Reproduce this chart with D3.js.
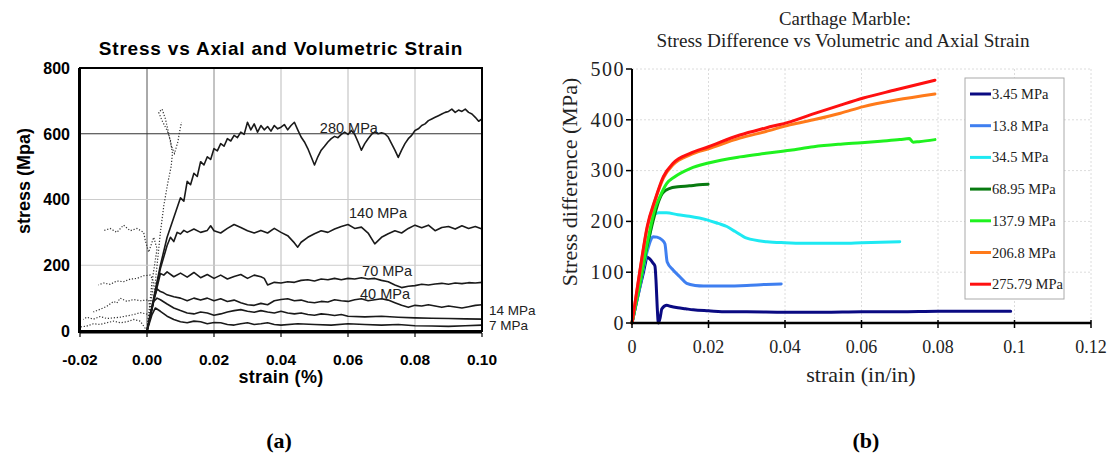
<!DOCTYPE html>
<html lang="en">
<head>
<meta charset="UTF-8">
<title>Stress vs Strain - Carthage Marble</title>
<script src="https://d3js.org/d3.v7.min.js"></script>
<style>
    body { margin: 0; background: #fff; }
    .sans { font-family: "Liberation Sans", Arial, sans-serif; }
    .serif { font-family: "Liberation Serif", "Times New Roman", serif; }
</style>
</head>
<body>
<div id="fig"></div>
<script>
// ---------- panel (a): axial (solid) and volumetric (dotted) curves ----------
var leftXTicks = [-0.02, 0, 0.02, 0.04, 0.06, 0.08, 0.10];
var leftYTicks = [0, 200, 400, 600, 800];

var axial280 = [[0,0],[0.002,100],[0.004,200],[0.006,285],[0.008,345],[0.010,405],[0.011,395],[0.012,455],[0.013,445],[0.014,480],[0.015,470],[0.016,515],[0.017,505],[0.018,530],[0.019,522],[0.020,555],[0.021,548],[0.022,570],[0.023,562],[0.024,585],[0.025,578],[0.026,595],[0.027,588],[0.028,605],[0.029,598],[0.030,635],[0.031,612],[0.032,630],[0.033,605],[0.034,625],[0.035,612],[0.036,622],[0.037,608],[0.038,625],[0.039,615],[0.040,620],[0.041,628],[0.042,612],[0.043,625],[0.044,635],[0.045,612],[0.046,590],[0.047,575],[0.048,555],[0.049,530],[0.050,505],[0.051,530],[0.052,550],[0.053,562],[0.054,575],[0.055,585],[0.056,592],[0.057,588],[0.058,598],[0.059,605],[0.060,598],[0.061,610],[0.062,598],[0.063,575],[0.064,550],[0.065,570],[0.066,585],[0.067,598],[0.068,605],[0.069,600],[0.070,603],[0.071,600],[0.072,590],[0.073,570],[0.074,550],[0.075,528],[0.076,550],[0.077,570],[0.078,585],[0.079,595],[0.080,610],[0.081,615],[0.082,625],[0.083,630],[0.084,640],[0.085,645],[0.086,650],[0.087,655],[0.088,660],[0.089,665],[0.090,668],[0.091,675],[0.092,665],[0.093,672],[0.094,668],[0.095,675],[0.096,665],[0.097,660],[0.098,650],[0.099,638],[0.100,645]];
var axial140 = [[0,0],[0.002,95],[0.004,190],[0.006,260],[0.007,285],[0.008,272],[0.009,300],[0.010,295],[0.011,306],[0.012,300],[0.014,310],[0.016,300],[0.018,306],[0.019,320],[0.020,305],[0.022,298],[0.024,312],[0.026,324],[0.028,315],[0.030,305],[0.032,298],[0.034,306],[0.036,298],[0.038,312],[0.040,300],[0.042,290],[0.044,268],[0.045,255],[0.046,270],[0.048,285],[0.050,296],[0.052,305],[0.054,300],[0.056,310],[0.058,318],[0.060,324],[0.062,312],[0.064,316],[0.066,298],[0.068,265],[0.070,285],[0.072,296],[0.074,305],[0.076,298],[0.078,312],[0.080,322],[0.082,314],[0.084,322],[0.086,305],[0.088,315],[0.090,318],[0.092,310],[0.094,320],[0.096,312],[0.098,318],[0.100,310]];
var axial70 = [[0,0],[0.002,90],[0.004,175],[0.005,170],[0.006,180],[0.008,165],[0.010,176],[0.012,164],[0.014,178],[0.016,162],[0.018,172],[0.020,160],[0.022,170],[0.024,158],[0.026,166],[0.028,172],[0.030,160],[0.032,170],[0.034,165],[0.035,160],[0.036,140],[0.038,148],[0.040,146],[0.042,150],[0.044,148],[0.046,154],[0.048,156],[0.050,152],[0.052,158],[0.054,156],[0.056,160],[0.058,156],[0.060,160],[0.062,158],[0.064,162],[0.066,158],[0.068,160],[0.070,154],[0.072,150],[0.074,140],[0.076,132],[0.078,136],[0.080,138],[0.082,142],[0.084,140],[0.086,143],[0.088,145],[0.090,142],[0.092,146],[0.094,144],[0.096,147],[0.098,146],[0.100,148]];
var axial40 = [[0,0],[0.002,95],[0.003,128],[0.004,120],[0.005,116],[0.006,110],[0.008,104],[0.010,100],[0.012,92],[0.014,100],[0.016,94],[0.018,100],[0.020,92],[0.022,98],[0.024,90],[0.026,94],[0.028,86],[0.030,80],[0.032,78],[0.034,84],[0.036,80],[0.038,92],[0.040,96],[0.042,98],[0.044,92],[0.046,94],[0.048,88],[0.050,86],[0.052,90],[0.054,88],[0.056,95],[0.058,92],[0.060,90],[0.062,95],[0.064,98],[0.066,92],[0.068,95],[0.070,98],[0.072,94],[0.074,86],[0.076,78],[0.078,72],[0.080,78],[0.082,76],[0.084,80],[0.086,76],[0.088,72],[0.090,76],[0.092,73],[0.094,70],[0.096,74],[0.098,78],[0.100,80]];
var axial14 = [[0,0],[0.002,90],[0.003,100],[0.004,95],[0.006,82],[0.008,70],[0.010,62],[0.012,55],[0.014,52],[0.016,58],[0.018,55],[0.020,48],[0.022,52],[0.024,58],[0.026,62],[0.028,65],[0.030,60],[0.032,57],[0.034,62],[0.036,58],[0.038,55],[0.040,60],[0.042,55],[0.044,52],[0.046,55],[0.048,50],[0.050,48],[0.052,52],[0.054,50],[0.056,47],[0.058,50],[0.060,45],[0.065,43],[0.070,45],[0.075,42],[0.080,40],[0.085,39],[0.090,38],[0.095,37],[0.100,36]];
var axial7 = [[0,0],[0.0015,50],[0.0025,70],[0.004,60],[0.006,45],[0.008,35],[0.010,28],[0.012,25],[0.014,30],[0.016,28],[0.018,22],[0.020,26],[0.022,25],[0.024,20],[0.026,18],[0.028,22],[0.030,25],[0.032,20],[0.034,22],[0.036,25],[0.038,20],[0.040,18],[0.045,22],[0.050,20],[0.055,18],[0.060,22],[0.065,20],[0.070,18],[0.075,20],[0.080,16],[0.085,15],[0.090,14],[0.095,16],[0.100,18]];

var vol280 = [[0,0],[0.002,100],[0.003,200],[0.004,300],[0.005,380],[0.0062,450],[0.0072,500],[0.0076,540],[0.007,580],[0.006,610],[0.0045,640],[0.0035,665],[0.0045,675],[0.0055,645],[0.0065,600],[0.0072,565],[0.0082,540],[0.0092,575],[0.0098,610],[0.0103,635]];
var vol140 = [[0,0],[0.0015,150],[0.003,250],[0.002,285],[0.0005,240],[-0.0005,275],[-0.001,300],[-0.003,312],[-0.005,305],[-0.007,322],[-0.009,300],[-0.011,312],[-0.013,305]];
var vol70 = [[0,0],[0.0015,110],[0.002,150],[0.001,170],[-0.001,168],[-0.003,160],[-0.005,158],[-0.007,150],[-0.009,152],[-0.011,142],[-0.013,146],[-0.0145,140]];
var vol40 = [[0,0],[0.001,60],[0.0005,95],[-0.002,92],[-0.004,96],[-0.006,90],[-0.008,100],[-0.009,85],[-0.010,90],[-0.012,75],[-0.014,66],[-0.016,58]];
var vol14 = [[0,0],[0.0005,50],[-0.002,56],[-0.004,50],[-0.006,46],[-0.008,42],[-0.010,40],[-0.012,38],[-0.014,44],[-0.016,36],[-0.018,42],[-0.019,35]];
var vol7 = [[0,0],[-0.002,30],[-0.004,35],[-0.006,28],[-0.008,25],[-0.010,30],[-0.012,25],[-0.014,20],[-0.016,22],[-0.018,15],[-0.020,12]];

var leftAxial = [axial280, axial140, axial70, axial40, axial14, axial7];
var leftVol = [vol280, vol140, vol70, vol40, vol14, vol7];
var leftLabels = ["280 MPa", "140 MPa", "70 MPa", "40 MPa", "14 MPa", "7 MPa"];
var leftLabelAt = [[0.0516, 600], [0.0603, 341], [0.0642, 164], [0.0636, 94], [0.1021, 45], [0.1021, 0]];

// ---------- panel (b): Carthage Marble ----------
var rightXTicks = [0, 0.02, 0.04, 0.06, 0.08, 0.1, 0.12];
var rightYTicks = [0, 100, 200, 300, 400, 500];
var pressures = ["3.45 MPa", "13.8 MPa", "34.5 MPa", "68.95 MPa", "137.9 MPa", "206.8 MPa", "275.79 MPa"];
var colors = ["#0a0a82", "#3f7ff0", "#1ee9f2", "#087a10", "#1ff21f", "#ff7a1a", "#ff1010"];

var p345 = [[0,0],[0.001,35],[0.002,68],[0.003,100],[0.0035,118],[0.0039,130],[0.0045,127],[0.0055,118],[0.006,112],[0.0063,80],[0.0066,30],[0.0069,0],[0.0074,12],[0.0078,28],[0.0091,35],[0.010,33],[0.012,30],[0.014,28],[0.016,26],[0.020,24],[0.025,22],[0.030,22],[0.040,21],[0.050,21],[0.060,22],[0.070,22],[0.080,23],[0.090,23],[0.099,23]];
var p138 = [[0,0],[0.002,70],[0.004,142],[0.005,165],[0.0055,170],[0.0065,169],[0.0078,164],[0.0086,156],[0.0092,120],[0.0108,104],[0.0125,91],[0.0143,78],[0.0165,74],[0.0187,73],[0.024,73],[0.030,74],[0.035,76],[0.039,77]];
var p345b = [[0,0],[0.002,72],[0.004,150],[0.005,188],[0.0055,212],[0.007,217],[0.009,217],[0.012,213],[0.015,210],[0.0196,203],[0.0225,196],[0.0248,190],[0.027,180],[0.030,167],[0.0353,160],[0.040,158],[0.045,157],[0.050,157],[0.055,157],[0.060,158],[0.065,159],[0.070,160]];
var p6895 = [[0,0],[0.002,74],[0.004,152],[0.006,215],[0.007,240],[0.008,256],[0.0099,265],[0.012,268],[0.015,270],[0.0175,272],[0.0199,273]];
var p1379 = [[0,0],[0.002,76],[0.004,158],[0.006,225],[0.0073,249],[0.0091,275],[0.011,287],[0.0152,304],[0.020,315],[0.0282,327],[0.035,334],[0.0413,340],[0.0475,347],[0.0545,352],[0.060,355],[0.065,358],[0.070,361],[0.0725,363],[0.0735,356],[0.075,357],[0.0792,361]];
var p2068 = [[0,0],[0.002,98],[0.004,188],[0.006,240],[0.0082,285],[0.0108,312],[0.0152,331],[0.020,343],[0.0282,364],[0.035,377],[0.0413,390],[0.048,401],[0.0545,413],[0.0605,426],[0.069,439],[0.0792,451]];
var p27579 = [[0,0],[0.002,100],[0.004,191],[0.006,242],[0.0082,288],[0.0108,315],[0.0152,334],[0.020,347],[0.0282,370],[0.035,384],[0.0413,396],[0.048,413],[0.0545,429],[0.0605,443],[0.069,459],[0.0792,478]];
var rightSeries = [p345, p138, p345b, p6895, p1379, p2068, p27579];

var width = 1112, height = 460;
var svg = d3.select("#fig").append("svg")
    .attr("width", width)
    .attr("height", height)
    .style("display", "block");

svg.append("rect").attr("width", width).attr("height", height).attr("fill", "#fff");

// ================= panel (a) =================
var xL = d3.scaleLinear().domain([-0.02, 0.10]).range([80, 482]);
var yL = d3.scaleLinear().domain([0, 800]).range([331, 68]);

var gA = svg.append("g").attr("class", "sans");

// grid
gA.selectAll(".vgrid")
    .data(leftXTicks.filter(function (d) { return d > -0.02 && d < 0.1; }))
    .join("line")
    .attr("x1", function (d) { return xL(d); })
    .attr("x2", function (d) { return xL(d); })
    .attr("y1", yL(800)).attr("y2", yL(0))
    .attr("stroke", function (d) { return d === 0 ? "#555" : (d === 0.02 ? "#888" : "#bbb"); })
    .attr("stroke-width", 1);

gA.selectAll(".hgrid")
    .data([200, 400, 600])
    .join("line")
    .attr("x1", xL(-0.02)).attr("x2", xL(0.10))
    .attr("y1", function (d) { return yL(d); })
    .attr("y2", function (d) { return yL(d); })
    .attr("stroke", function (d) { return d === 600 ? "#333" : "#ccc"; })
    .attr("stroke-width", 1);

var lineL = d3.line()
    .x(function (d) { return xL(d[0]); })
    .y(function (d) { return yL(d[1]); });

gA.append("g").selectAll("path")
    .data(leftVol)
    .join("path")
    .attr("d", lineL)
    .attr("fill", "none")
    .attr("stroke", "#333")
    .attr("stroke-width", 1.2)
    .attr("stroke-dasharray", "1.2,1.8");

gA.append("g").selectAll("path")
    .data(leftAxial)
    .join("path")
    .attr("d", lineL)
    .attr("fill", "none")
    .attr("stroke", "#1a1a1a")
    .attr("stroke-width", 1.6)
    .attr("stroke-linejoin", "round");

// frame
gA.append("rect")
    .attr("x", xL(-0.02)).attr("y", yL(800))
    .attr("width", xL(0.10) - xL(-0.02))
    .attr("height", yL(0) - yL(800))
    .attr("fill", "none")
    .attr("stroke", "#000")
    .attr("stroke-width", 2);
gA.append("line")
    .attr("x1", xL(-0.02)).attr("x2", xL(0.10))
    .attr("y1", yL(0) + 1).attr("y2", yL(0) + 1)
    .attr("stroke", "#000").attr("stroke-width", 3);
gA.append("line")
    .attr("x1", xL(-0.02) - 0.5).attr("x2", xL(-0.02) - 0.5)
    .attr("y1", yL(800)).attr("y2", yL(0) + 2)
    .attr("stroke", "#000").attr("stroke-width", 3);

// x ticks + labels
gA.selectAll(".xt")
    .data(leftXTicks)
    .join("line")
    .attr("x1", function (d) { return xL(d); })
    .attr("x2", function (d) { return xL(d); })
    .attr("y1", yL(0) + 2).attr("y2", yL(0) + 6)
    .attr("stroke", "#000").attr("stroke-width", 1.2);

gA.selectAll(".xl")
    .data(leftXTicks)
    .join("text")
    .attr("x", function (d) { return xL(d); })
    .attr("y", yL(0) + 34)
    .attr("text-anchor", "middle")
    .style("font-size", "15.5px")
    .style("font-weight", "bold")
    .text(function (d) { return d.toFixed(2); });

gA.selectAll(".yl")
    .data(leftYTicks)
    .join("text")
    .attr("x", xL(-0.02) - 10)
    .attr("y", function (d) { return yL(d); })
    .attr("dy", "0.36em")
    .attr("text-anchor", "end")
    .style("font-size", "16px")
    .style("font-weight", "bold")
    .text(function (d) { return d; });

gA.append("text")
    .attr("x", 281).attr("y", 55)
    .attr("text-anchor", "middle")
    .style("font-size", "19px")
    .style("font-weight", "bold")
    .style("letter-spacing", "0.8px")
    .text("Stress vs Axial and Volumetric Strain");

gA.append("text")
    .attr("x", 281).attr("y", 383)
    .attr("text-anchor", "middle")
    .style("font-size", "18px")
    .style("font-weight", "bold")
    .style("letter-spacing", "0.3px")
    .text("strain (%)");

gA.append("text")
    .attr("transform", "translate(30,181) rotate(-90)")
    .attr("text-anchor", "middle")
    .style("font-size", "18px")
    .style("font-weight", "bold")
    .text("stress (Mpa)");

gA.selectAll(".lab")
    .data(leftLabels)
    .join("text")
    .attr("x", function (d, i) { return xL(leftLabelAt[i][0]); })
    .attr("y", function (d, i) { return yL(leftLabelAt[i][1]); })
    .attr("dy", -1)
    .style("font-size", function (d, i) { return i >= 4 ? "13.5px" : "14.5px"; })
    .attr("fill", "#222")
    .text(function (d) { return d; });

// ================= panel (b) =================
var xR = d3.scaleLinear().domain([0, 0.12]).range([632, 1091]);
var yR = d3.scaleLinear().domain([0, 500]).range([323, 69]);

var gB = svg.append("g").attr("class", "serif");

gB.selectAll(".vg")
    .data(rightXTicks.slice(1))
    .join("line")
    .attr("x1", function (d) { return xR(d); })
    .attr("x2", function (d) { return xR(d); })
    .attr("y1", yR(500)).attr("y2", yR(0))
    .attr("stroke", "#dcdcdc").attr("stroke-width", 1)
    .attr("stroke-dasharray", "2,2");

gB.selectAll(".hg")
    .data(rightYTicks.slice(1))
    .join("line")
    .attr("x1", xR(0)).attr("x2", xR(0.12))
    .attr("y1", function (d) { return yR(d); })
    .attr("y2", function (d) { return yR(d); })
    .attr("stroke", "#dcdcdc").attr("stroke-width", 1)
    .attr("stroke-dasharray", "2,2");

var lineR = d3.line()
    .curve(d3.curveMonotoneX)
    .x(function (d) { return xR(d[0]); })
    .y(function (d) { return yR(d[1]); });

gB.append("g").selectAll("path")
    .data(rightSeries)
    .join("path")
    .attr("d", lineR)
    .attr("fill", "none")
    .attr("stroke", function (d, i) { return colors[i]; })
    .attr("stroke-width", 3)
    .attr("stroke-linejoin", "round")
    .attr("stroke-linecap", "round");

// axes
gB.append("line")
    .attr("x1", xR(0)).attr("x2", xR(0))
    .attr("y1", yR(500)).attr("y2", yR(0) + 1)
    .attr("stroke", "#000").attr("stroke-width", 2);
gB.append("line")
    .attr("x1", xR(0) - 1).attr("x2", xR(0.12))
    .attr("y1", yR(0)).attr("y2", yR(0))
    .attr("stroke", "#000").attr("stroke-width", 2.5);

gB.selectAll(".rxt")
    .data(rightXTicks)
    .join("line")
    .attr("x1", function (d) { return xR(d); })
    .attr("x2", function (d) { return xR(d); })
    .attr("y1", yR(0) - 3).attr("y2", yR(0) + 5)
    .attr("stroke", "#000").attr("stroke-width", 1.5);

gB.selectAll(".ryt")
    .data(rightYTicks)
    .join("line")
    .attr("x1", xR(0) - 6).attr("x2", xR(0))
    .attr("y1", function (d) { return yR(d); })
    .attr("y2", function (d) { return yR(d); })
    .attr("stroke", "#000").attr("stroke-width", 1.5);

gB.selectAll(".rxl")
    .data(rightXTicks)
    .join("text")
    .attr("x", function (d) { return xR(d); })
    .attr("y", yR(0) + 30)
    .attr("text-anchor", "middle")
    .style("font-size", "18px")
    .attr("fill", "#222")
    .text(function (d) { return String(+d.toFixed(2)); });

gB.selectAll(".ryl")
    .data(rightYTicks)
    .join("text")
    .attr("x", xR(0) - 7)
    .attr("y", function (d) { return yR(d); })
    .attr("dy", "0.34em")
    .attr("text-anchor", "end")
    .style("font-size", "20px")
    .style("letter-spacing", "1.5px")
    .attr("fill", "#222")
    .text(function (d) { return d; });

gB.append("text")
    .attr("x", 845).attr("y", 25)
    .attr("text-anchor", "middle")
    .style("font-size", "18.8px")
    .attr("fill", "#222")
    .text("Carthage Marble:");
gB.append("text")
    .attr("x", 843).attr("y", 47)
    .attr("text-anchor", "middle")
    .style("font-size", "19.2px")
    .attr("fill", "#222")
    .text("Stress Difference vs Volumetric and Axial Strain");

gB.append("text")
    .attr("x", 861).attr("y", 382)
    .attr("text-anchor", "middle")
    .style("font-size", "22px")
    .attr("fill", "#222")
    .text("strain (in/in)");

gB.append("text")
    .attr("transform", "translate(577,182) rotate(-90)")
    .attr("text-anchor", "middle")
    .style("font-size", "22px")
    .attr("fill", "#222")
    .text("Stress difference (MPa)");

// legend
var legend = gB.append("g").attr("transform", "translate(965,78)");
legend.append("rect")
    .attr("width", 99).attr("height", 221)
    .attr("fill", "#fff")
    .attr("stroke", "#aaa").attr("stroke-width", 1);
var items = legend.selectAll(".li")
    .data(pressures)
    .join("g")
    .attr("transform", function (d, i) { return "translate(0," + (16 + i * 31.7) + ")"; });
items.append("line")
    .attr("x1", 5).attr("x2", 26)
    .attr("stroke", function (d, i) { return colors[i]; })
    .attr("stroke-width", 3);
items.append("text")
    .attr("x", 27).attr("dy", "0.35em")
    .style("font-size", "14.5px")
    .attr("fill", "#222")
    .text(function (d) { return d; });

// panel letters
svg.append("text").attr("class", "serif")
    .attr("x", 279).attr("y", 448)
    .attr("text-anchor", "middle")
    .style("font-size", "22px").style("font-weight", "bold")
    .text("(a)");
svg.append("text").attr("class", "serif")
    .attr("x", 866).attr("y", 448)
    .attr("text-anchor", "middle")
    .style("font-size", "22px").style("font-weight", "bold")
    .text("(b)");
</script>
</body>
</html>
